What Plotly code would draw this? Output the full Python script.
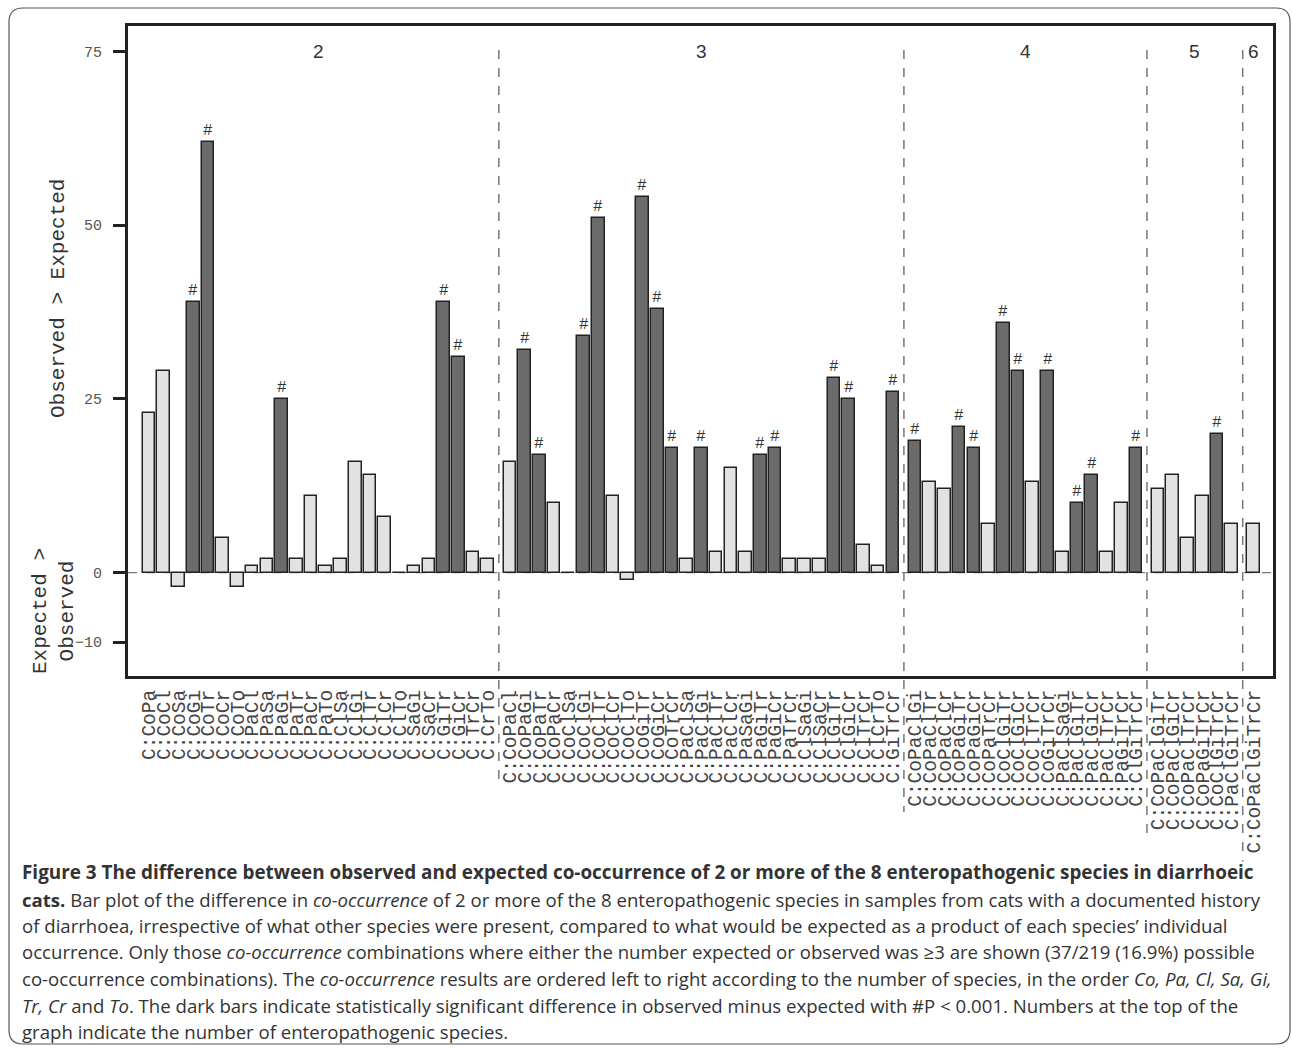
import plotly.graph_objects as go

# ---------------- data ----------------
group_numbers = [2, 3, 4, 5, 6]

labels2 = ["C:CoPa", "C:CoCl", "C:CoSa", "C:CoGi", "C:CoTr", "C:CoCr", "C:CoTo", "C:PaCl",
           "C:PaSa", "C:PaGi", "C:PaTr", "C:PaCr", "C:PaTo", "C:ClSa", "C:ClGi", "C:ClTr",
           "C:ClCr", "C:ClTo", "C:SaGi", "C:SaCr", "C:GiTr", "C:GiCr", "C:TrCr", "C:CrTo"]
values2 = [23, 29, -2, 39, 62, 5, -2, 1, 2, 25, 2, 11, 1, 2, 16, 14, 8, 0, 1, 2, 39, 31, 3, 2]
sig2 = [0, 0, 0, 1, 1, 0, 0, 0, 0, 1, 0, 0, 0, 0, 0, 0, 0, 0, 0, 0, 1, 1, 0, 0]

labels3 = ["C:CoPaCl", "C:CoPaGi", "C:CoPaTr", "C:CoPaCr", "C:CoClSa", "C:CoClGi", "C:CoClTr",
           "C:CoClCr", "C:CoClTo", "C:CoGiTr", "C:CoGiCr", "C:CoTrCr", "C:PaClSa", "C:PaClGi",
           "C:PaClTr", "C:PaClCr", "C:PaSaGi", "C:PaGiTr", "C:PaGiCr", "C:PaTrCr", "C:ClSaGi",
           "C:ClSaCr", "C:ClGiTr", "C:ClGiCr", "C:ClTrCr", "C:ClCrTo", "C:GiTrCr"]
values3 = [16, 32, 17, 10, 0, 34, 51, 11, -1, 54, 38, 18, 2, 18, 3, 15, 3, 17, 18, 2, 2, 2, 28, 25, 4, 1, 26]
sig3 = [0, 1, 1, 0, 0, 1, 1, 0, 0, 1, 1, 1, 0, 1, 0, 0, 0, 1, 1, 0, 0, 0, 1, 1, 0, 0, 1]

labels4 = ["C:CoPaClGi", "C:CoPaClTr", "C:CoPaClCr", "C:CoPaGiTr", "C:CoPaGiCr", "C:CoPaTrCr",
           "C:CoClGiTr", "C:CoClGiCr", "C:CoClTrCr", "C:CoGiTrCr", "C:PaClSaGi", "C:PaClGiTr",
           "C:PaClGiCr", "C:PaClTrCr", "C:PaGiTrCr", "C:ClGiTrCr"]
values4 = [19, 13, 12, 21, 18, 7, 36, 29, 13, 29, 3, 10, 14, 3, 10, 18]
sig4 = [1, 0, 0, 1, 1, 0, 1, 1, 0, 1, 0, 1, 1, 0, 0, 1]

labels5 = ["C:CoPaClGiTr", "C:CoPaClGiCr", "C:CoPaClTrCr", "C:CoPaGiTrCr", "C:CoClGiTrCr", "C:PaClGiTrCr"]
values5 = [12, 14, 5, 11, 20, 7]
sig5 = [0, 0, 0, 0, 1, 0]

labels6 = ["C:CoPaClGiTrCr"]
values6 = [7]
sig6 = [0]

y_tick_values = [-10, 0, 25, 50, 75]

# ---------------- layout helpers ----------------
W_FIG, H_FIG = 1292, 1049
L, R, T, B = 128, 1273, 26, 676
PW, PH = R - L, B - T


def pxx(xp):
    return (xp - L) / PW


def pxy(yp):
    return (B - yp) / PH


groups = [(labels2, values2, sig2), (labels3, values3, sig3), (labels4, values4, sig4),
          (labels5, values5, sig5), (labels6, values6, sig6)]

positions, all_labels, all_values, all_sig = [], [], [], []
group_pos = []
idx = 0
for g, (lab, val, sg) in enumerate(groups):
    gp = []
    for k in range(len(lab)):
        p = idx + 0.5 * g
        positions.append(p)
        gp.append(p)
        idx += 1
    all_labels += lab
    all_values += val
    all_sig += sg
    group_pos.append(gp)

LIGHT = "#e1e2e4"
DARK = "#6b6b6b"
colors = [DARK if s else LIGHT for s in all_sig]

fig = go.Figure()
fig.add_trace(go.Bar(
    x=positions, y=all_values, width=0.86,
    marker=dict(color=colors, line=dict(color="#222222", width=1.5)),
    hoverinfo="x+y",
))

shapes = []
annotations = []

# zero dashed line
shapes.append(dict(type="line", xref="paper", yref="y", x0=0, x1=1, y0=0, y1=0,
                   line=dict(color="#555555", width=1, dash="dash"), layer="below"))

# group separators (dashed), extending into label area
for g in range(1, len(groups)):
    xm = (group_pos[g - 1][-1] + group_pos[g][0]) / 2
    maxlen = max(len(s) for s in groups[g][0])
    bottom_px = 688 + maxlen * 12.4
    shapes.append(dict(type="line", xref="x", yref="paper", x0=xm, x1=xm,
                       y0=pxy(50), y1=pxy(bottom_px),
                       line=dict(color="#777777", width=1.5, dash="dash")))

# group numbers
for g, gp in enumerate(group_pos):
    annotations.append(dict(x=(gp[0] + gp[-1]) / 2, y=75, xref="x", yref="y",
                            text=str(group_numbers[g]), showarrow=False,
                            font=dict(family="Liberation Sans", size=19, color="#333333"),
                            yanchor="middle"))

# significance marks
for p, v, s in zip(positions, all_values, all_sig):
    if s:
        annotations.append(dict(x=p, y=v, xref="x", yref="y", text="#", showarrow=False,
                                yanchor="bottom", yshift=0,
                                font=dict(family="Liberation Mono", size=16, color="#333333")))

# y axis titles
annotations.append(dict(x=pxx(58), y=pxy(299), xref="paper", yref="paper",
                        text="Observed > Expected", textangle=-90, showarrow=False,
                        font=dict(family="Liberation Mono", size=21, color="#333333"),
                        xanchor="center", yanchor="middle"))
annotations.append(dict(x=pxx(54), y=pxy(611), xref="paper", yref="paper",
                        text="Expected ><br>Observed", textangle=-90, showarrow=False,
                        font=dict(family="Liberation Mono", size=21, color="#333333"),
                        xanchor="center", yanchor="middle", align="center"))

# caption
caption_lines = [
    "<b>Figure 3 The difference between observed and expected co-occurrence of 2 or more of the 8 enteropathogenic species in diarrhoeic</b>",
    "<b>cats.</b> Bar plot of the difference in <i>co-occurrence</i> of 2 or more of the 8 enteropathogenic species in samples from cats with a documented history",
    "of diarrhoea, irrespective of what other species were present, compared to what would be expected as a product of each species\u2019 individual",
    "occurrence. Only those <i>co-occurrence</i> combinations where either the number expected or observed was \u22653 are shown (37/219 (16.9%) possible",
    "co-occurrence combinations). The <i>co-occurrence</i> results are ordered left to right according to the number of species, in the order <i>Co, Pa, Cl, Sa, Gi,</i>",
    "<i>Tr, Cr</i> and <i>To</i>. The dark bars indicate statistically significant difference in observed minus expected with #P < 0.001. Numbers at the top of the",
    "graph indicate the number of enteropathogenic species.",
]
caption_y = [872, 899, 925, 951, 978, 1005, 1031]
caption_sizes = [18.9, 18.6, 18.6, 18.6, 18.6, 18.6, 18.6]
for line, yy, fs in zip(caption_lines, caption_y, caption_sizes):
    annotations.append(dict(x=pxx(20), y=pxy(yy), xref="paper", yref="paper", text=line,
                            showarrow=False, xanchor="left", yanchor="middle", align="left",
                            font=dict(family="Open Sans", size=fs, color="#333333")))

# outer rounded frame
bl, br, bt, bb, rr = 9, 1290, 8, 1044, 14
path = (f"M {pxx(bl+rr)},{pxy(bt)} L {pxx(br-rr)},{pxy(bt)} Q {pxx(br)},{pxy(bt)} {pxx(br)},{pxy(bt+rr)} "
        f"L {pxx(br)},{pxy(bb-rr)} Q {pxx(br)},{pxy(bb)} {pxx(br-rr)},{pxy(bb)} "
        f"L {pxx(bl+rr)},{pxy(bb)} Q {pxx(bl)},{pxy(bb)} {pxx(bl)},{pxy(bb-rr)} "
        f"L {pxx(bl)},{pxy(bt+rr)} Q {pxx(bl)},{pxy(bt)} {pxx(bl+rr)},{pxy(bt)} Z")
shapes.append(dict(type="path", xref="paper", yref="paper", path=path,
                   line=dict(color="#555555", width=1.2), layer="below"))

# axis ranges from pixel geometry
first_px, step_px = 149, 14.73
x_lo = positions[0] - (first_px - L) / step_px
x_hi = positions[0] + (R - first_px) / step_px
zero_px, unit_px = 572.7, 6.95
y_hi = (zero_px - T) / unit_px
y_lo = -(B - zero_px) / unit_px

fig.update_layout(
    width=W_FIG, height=H_FIG,
    margin=dict(l=L, r=W_FIG - R, t=T, b=H_FIG - B, pad=0),
    paper_bgcolor="white", plot_bgcolor="white",
    showlegend=False, bargap=0,
    shapes=shapes, annotations=annotations,
    xaxis=dict(range=[x_lo, x_hi], tickmode="array", tickvals=positions, ticktext=all_labels,
               tickangle=-90, tickfont=dict(family="Liberation Mono", size=19.5, color="#444444"),
               showline=True, mirror=True, linewidth=3, linecolor="#222222",
               ticks="", showgrid=False, zeroline=False, ticklabelstandoff=3),
    yaxis=dict(range=[y_lo, y_hi], tickmode="array", tickvals=y_tick_values,
               ticks="outside", ticklen=12, tickwidth=3, tickcolor="#222222",
               tickfont=dict(family="Liberation Mono", size=15, color="#555555"),
               showline=True, mirror=True, linewidth=3, linecolor="#222222",
               showgrid=False, zeroline=False, ticklabelstandoff=8),
)

fig.write_html("out.html", config={"displayModeBar": False},
               post_script="document.body.style.margin='0';document.body.style.overflow='hidden';")
